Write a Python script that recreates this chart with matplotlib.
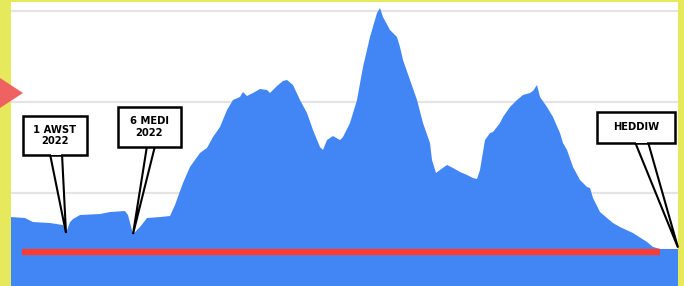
import matplotlib
matplotlib.use("Agg")
import matplotlib.pyplot as plt
from matplotlib.patches import Polygon, Rectangle

# ---- data ----
timeline = [0, 14, 22, 39, 52, 55, 59, 62, 69, 89, 99, 114, 117, 122, 129, 136, 149, 159,
            164, 172, 179, 189, 196, 202, 209, 216, 222, 229, 232, 236, 242, 249, 256, 259,
            266, 272, 276, 282, 289, 296, 302, 309, 312, 316, 322, 329, 332, 339, 346, 352,
            359, 366, 369, 372, 379, 386, 389, 392, 399, 406, 412, 419, 421, 425, 429, 436,
            442, 449, 456, 462, 466, 469, 474, 479, 482, 489, 492, 499, 506, 512, 519, 522,
            526, 529, 536, 542, 549, 552, 556, 562, 569, 576, 579, 582, 589, 596, 602, 609,
            622, 636, 642, 649, 667]
values = [73.6, 72.5, 68.1, 67.0, 64.8, 56.0, 68.0, 71.4, 75.8, 76.9, 79.1, 80.2, 75.8, 54.9,
          62.6, 72.5, 73.6, 74.7, 86.8, 111.0, 128.6, 144.0, 149.5, 161.5, 172.5, 191.2,
          202.2, 205.5, 211.0, 206.6, 209.9, 214.3, 213.2, 209.9, 217.6, 223.1, 224.2, 218.7,
          202.2, 187.9, 169.2, 150.5, 147.3, 158.2, 162.6, 158.2, 161.5, 176.9, 202.2, 238.5,
          271.4, 297.8, 303.3, 293.4, 279.1, 271.4, 260.4, 246.2, 224.2, 202.2, 176.9, 154.9,
          136.3, 122.0, 125.3, 130.8, 127.5, 123.1, 119.8, 116.5, 115.4, 125.3, 158.2, 165.9,
          167.0, 176.9, 183.5, 194.5, 202.2, 207.7, 209.9, 212.1, 218.7, 205.5, 194.5, 183.5,
          165.9, 154.9, 147.3, 128.6, 114.3, 106.6, 105.5, 94.5, 79.1, 72.5, 67.0, 62.6,
          56.0, 46.2, 40.7, 38.5, 38.5]
grid_levels = [100, 200, 300]
ref_level = 35
ref_start, ref_end = 11, 649
callout_texts = ["1 AWST\n2022", "6 MEDI\n2022", "HEDDIW"]
callout_targets = [(55, 56.0), (122, 54.9), (667, 40.0)]

W, H = 684, 286
fig = plt.figure(figsize=(W / 100, H / 100), dpi=100)
fig.patch.set_facecolor("#e6e95c")

ax = fig.add_axes([11 / W, 0, 667 / W, 284 / H])
ax.set_facecolor("white")
ax.set_xlim(0, 667)
ax.set_ylim(-2.2, 309.9)
for g in grid_levels:
    ax.axhline(g, color="#e4e4e4", lw=1.6, zorder=0)
ax.fill_between(timeline, values, -20, color="#4285f4", lw=0, zorder=1)
ax.hlines(ref_level, ref_start, ref_end, color="#ff3b30", lw=4.5, zorder=2)
for s in ax.spines.values():
    s.set_visible(False)
ax.set_xticks([])
ax.set_yticks([])

def px(x, y):
    return (x / W, 1 - y / H)

fig.canvas.draw()
to_fig = fig.transFigure.inverted()

# box rectangles in pixel coords: (left, top, right, bottom), tail base (x0, x1)
boxes = [((23, 116, 87, 155), (50, 62)),
         ((118, 107, 181, 147), (147, 155)),
         ((597, 112, 675, 143), (635, 648))]

for ((l, t, r, b), (bx0, bx1)), txt, tgt in zip(boxes, callout_texts, callout_targets):
    apex = to_fig.transform(ax.transData.transform(tgt))
    tail = Polygon([px(bx0, b - 1), px(bx1, b - 1), tuple(apex)], closed=True,
                   transform=fig.transFigure, facecolor="white", edgecolor="black",
                   lw=1.5, zorder=10, joinstyle="miter")
    fig.add_artist(tail)
    rect = Rectangle(px(l, b), (r - l) / W, (b - t) / H, transform=fig.transFigure,
                     facecolor="white", edgecolor="black", lw=1.8, zorder=11)
    fig.add_artist(rect)
    cover = Polygon([px(bx0 + 1, b - 0.5), px(bx1 - 1, b - 0.5), px(bx1 - 1, b - 3), px(bx0 + 1, b - 3)],
                    closed=True, transform=fig.transFigure, facecolor="white", edgecolor="none", zorder=12)
    fig.add_artist(cover)
    cx, cy = px((l + r) / 2, (t + b) / 2)
    fig.text(cx, cy, txt, ha="center", va="center", fontsize=7.2, fontweight="bold",
             family="DejaVu Sans", linespacing=1.15, zorder=13)

tri = Polygon([px(0, 78), px(23, 93), px(0, 108)], closed=True, transform=fig.transFigure,
              facecolor="#ef6262", edgecolor="none", zorder=20)
fig.add_artist(tri)

fig.savefig("out.png", dpi=100, facecolor=fig.get_facecolor())
